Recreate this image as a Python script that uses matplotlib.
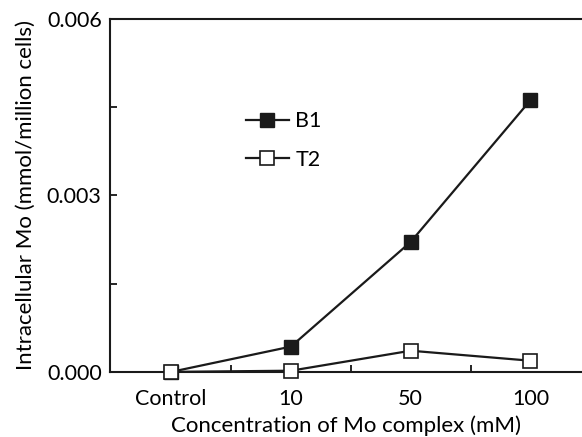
import matplotlib
matplotlib.use('Agg')
import matplotlib.pyplot as plt
from matplotlib.ticker import MultipleLocator, FixedLocator

plt.rcParams['font.family'] = ['Lato', 'DejaVu Sans']

categories = ['Control', '10', '50', '100']
b1 = [0.0, 0.00043, 0.00221, 0.00462]
t2 = [0.0, 0.00002, 0.00036, 0.00019]

fig = plt.figure(figsize=(5.82, 4.37), dpi=100)
ax = fig.add_axes([0.189, 0.149, 0.811, 0.8075])

x = list(range(len(categories)))
ax.plot(x, b1, color='#1a1a1a', lw=1.6, marker='s', ms=10,
        mfc='#1a1a1a', mec='#1a1a1a', label='B1', clip_on=False, zorder=3)
ax.plot(x, t2, color='#1a1a1a', lw=1.6, marker='s', ms=10,
        mfc='white', mec='#1a1a1a', mew=1.2, label='T2', clip_on=False, zorder=4)

ax.set_xlim(-0.51, 3.43)
ax.set_ylim(0, 0.006)
ax.set_xticks(x)
ax.set_xticklabels(categories)
ax.xaxis.set_minor_locator(FixedLocator([0.5, 1.5, 2.5]))
ax.tick_params(axis='x', which='major', length=0, pad=12, labelsize=15.5)
ax.tick_params(axis='x', which='minor', direction='in', length=5, width=1.2)
ax.set_yticks([0, 0.003, 0.006])
ax.set_yticklabels(['0.000', '0.003', '0.006'])
ax.yaxis.set_minor_locator(MultipleLocator(0.0015))
ax.tick_params(axis='y', which='both', direction='in', length=5, width=1.2, labelsize=15.5)
ax.tick_params(axis='y', which='major', pad=6)

ax.spines['right'].set_visible(False)
for s in ['left', 'bottom', 'top']:
    ax.spines[s].set_linewidth(1.5)
    ax.spines[s].set_color('#1a1a1a')

ax.set_xlabel('Concentration of Mo complex (mM)', fontsize=16, labelpad=5)
ax.set_ylabel('Intracellular Mo (mmol/million cells)', fontsize=16, labelpad=8)

ax.legend(loc='upper left', bbox_to_anchor=(0.288, 0.738), frameon=False,
          fontsize=15.5, handlelength=2.0, labelspacing=0.85, handletextpad=0.3,
          borderpad=0, borderaxespad=0)

fig.savefig('out.png', dpi=100)
